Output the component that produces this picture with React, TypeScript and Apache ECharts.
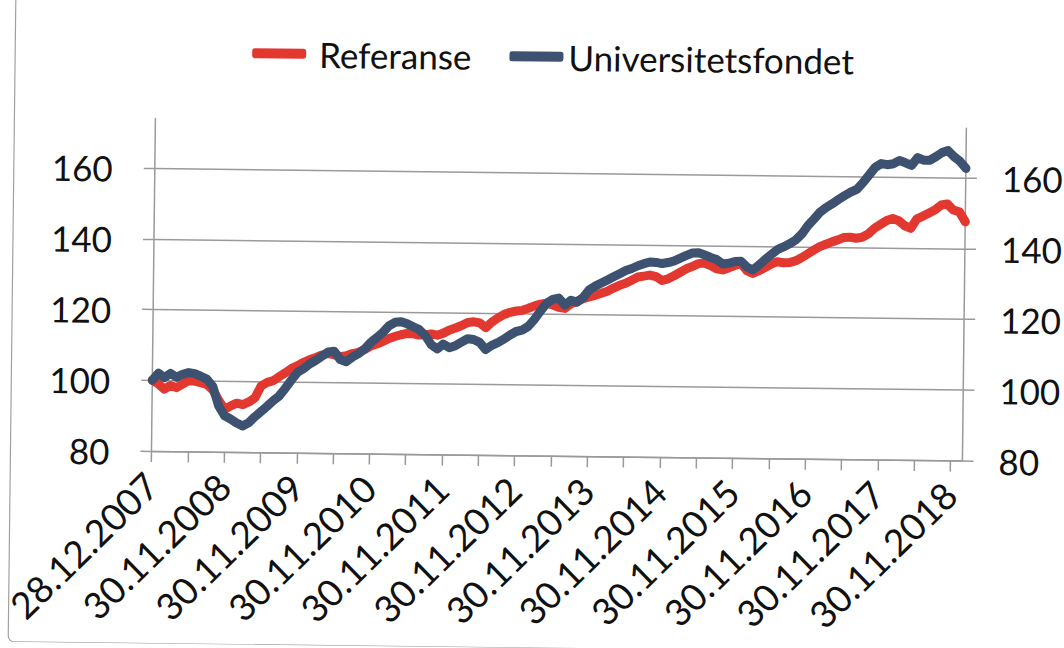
import React, { useEffect, useRef } from "react";
import * as echarts from "echarts";

// Monthly categories: 28.12.2007, then month-ends so that every 12th is 30.11.yyyy
const categories: string[] = [];
for (let k = 0; k < 135; k++) {
  if (k === 0) {
    categories.push("28.12.2007");
  } else {
    const m = 10 + k;
    const year = 2007 + Math.floor(m / 12);
    const month = m % 12;
    const day = new Date(year, month + 1, 0).getDate();
    categories.push(
      String(day).padStart(2, "0") + "." + String(month + 1).padStart(2, "0") + "." + year
    );
  }
}

const referanse = [
  100, 99.0, 97.5, 98.6, 98.0, 99.0, 100.0, 99.9, 99.5, 99.0,
  97.5, 94.6, 92.0, 93.0, 93.8, 93.4, 94.2, 95.4, 98.8, 99.8,
  100.3, 101.5, 102.6, 103.8, 104.6, 105.6, 106.4, 107.0, 107.7, 108.2,
  107.8, 107.3, 107.6, 108.2, 108.6, 109.4, 110.4, 111.0, 111.7, 112.6,
  113.2, 113.7, 114.1, 114.0, 113.7, 113.8, 114.0, 113.7, 114.3, 115.2,
  115.8, 116.5, 117.4, 117.6, 117.3, 116.0, 117.6, 118.8, 119.8, 120.4,
  120.8, 121.0, 121.6, 122.3, 122.8, 123.1, 122.6, 122.0, 121.7, 123.0,
  123.7, 124.5, 125.0, 125.5, 126.1, 126.7, 127.6, 128.4, 129.0, 129.9,
  130.8, 131.1, 131.4, 131.0, 129.9, 130.4, 131.3, 132.3, 133.3, 134.0,
  134.8, 135.0, 134.3, 133.4, 133.1, 133.7, 134.4, 135.0, 133.0, 132.2,
  133.0, 133.9, 134.9, 135.6, 135.3, 135.4, 135.9, 136.8, 137.9, 139.0,
  140.0, 140.7, 141.4, 142.0, 142.7, 142.8, 142.5, 142.8, 143.8, 145.4,
  146.5, 147.6, 148.2, 147.6, 146.2, 145.5, 148.2, 149.0, 149.9, 150.8,
  152.2, 152.5, 150.8, 150.3, 147.5,
];

const universitetsfondet = [
  100, 102.0, 100.8, 102.0, 100.9, 101.8, 102.3, 102.0, 101.3, 100.5,
  98.5, 93.0, 90.2, 89.3, 88.2, 87.4, 88.3, 90.0, 91.5, 93.0,
  94.6, 96.0, 98.2, 100.6, 102.8, 103.8, 105.2, 106.2, 107.4, 108.6,
  108.8, 106.5, 105.9, 107.2, 108.2, 109.5, 111.4, 112.8, 114.3, 116.2,
  117.2, 117.4, 116.8, 116.0, 115.2, 113.6, 111.0, 109.8, 111.2, 110.2,
  110.8, 111.8, 112.8, 112.6, 111.8, 109.8, 111.0, 111.8, 112.8, 114.0,
  115.0, 115.4, 116.5, 118.5, 120.9, 123.1, 124.2, 124.6, 122.6, 124.0,
  123.5, 124.8, 127.0, 128.1, 129.0, 129.9, 130.8, 131.7, 132.6, 133.2,
  134.0, 134.6, 135.1, 135.0, 134.7, 135.0, 135.5, 136.3, 137.1, 137.8,
  137.9, 137.3, 136.6, 136.0, 134.8, 135.0, 135.5, 135.6, 134.0, 133.2,
  134.6, 136.2, 137.6, 139.0, 139.8, 140.7, 141.8, 143.5, 145.9, 147.8,
  149.8, 151.1, 152.2, 153.4, 154.5, 155.5, 156.3, 158.2, 160.4, 162.6,
  163.7, 163.4, 163.7, 164.6, 164.0, 163.3, 165.5, 164.8, 164.8, 165.8,
  167.0, 167.6, 165.9, 164.6, 162.6,
];

const yTicks = [80, 100, 120, 140, 160];

const FONT = "Lato, 'Noto Sans', sans-serif";
const RED = "#E2382F";
const BLUE = "#3D5270";
const GRID = "#9a9a9a";

export default function App() {
  const ref = useRef<HTMLDivElement>(null);
  useEffect(() => {
    document.body.style.margin = "0";
    document.body.style.background = "#fff";
    if (!ref.current) return;
    const chart = echarts.init(ref.current, null, { renderer: "svg" });
    const yAxisBase = {
      type: "value" as const,
      min: 80,
      max: 174,
      interval: 20,
      axisLine: { show: true, lineStyle: { color: GRID, width: 1.5 } },
      axisTick: { show: true, length: 11, customValues: yTicks, lineStyle: { color: GRID, width: 1.5 } },
      axisLabel: {
        customValues: yTicks,
        fontFamily: FONT,
        fontSize: 35,
        color: "#111",
      },
    };
    chart.setOption({
      animation: false,
      backgroundColor: "#fff",
      textStyle: { fontFamily: FONT },
      graphic: [
        {
          type: "rect",
          shape: { x: 12, y: -20, width: 1100, height: 668, r: 6 },
          style: { fill: "none", stroke: "#a0a0a0", lineWidth: 1.2 },
          silent: true,
        },
      ],
      legend: {
        left: 244,
        top: 34,
        itemWidth: 54,
        itemHeight: 10,
        itemGap: 38,
        icon: "roundRect",
        textStyle: { fontFamily: FONT, fontSize: 35, color: "#111" },
        data: [
          { name: "Referanse", textStyle: { padding: [0, 0, 0, 8] } },
          { name: "Universitetsfondet" },
        ],
      },
      grid: { left: 153, right: 98, top: 123, bottom: 192.5, containLabel: false },
      xAxis: {
        type: "category",
        data: categories,
        boundaryGap: false,
        axisLine: { show: true, lineStyle: { color: GRID, width: 1.5 } },
        axisTick: {
          show: true,
          length: 11,
          interval: (i: number) => i % 6 === 0,
          lineStyle: { color: GRID, width: 1.5 },
        },
        axisLabel: {
          interval: (i: number) => i % 12 === 0,
          rotate: 45,
          margin: 28,
          fontFamily: FONT,
          fontSize: 37,
          color: "#111",
        },
        splitLine: { show: false },
      },
      yAxis: [
        {
          ...yAxisBase,
          position: "left",
          axisLabel: { ...yAxisBase.axisLabel, margin: 42 },
          splitLine: { show: true, lineStyle: { color: GRID, width: 1.5 } },
        },
        {
          ...yAxisBase,
          position: "right",
          axisLabel: { ...yAxisBase.axisLabel, margin: 36 },
          splitLine: { show: false },
        },
      ],
      series: [
        {
          name: "Referanse",
          type: "line",
          data: referanse,
          yAxisIndex: 0,
          symbol: "none",
          lineStyle: { color: RED, width: 9, join: "round", cap: "round" },
          itemStyle: { color: RED },
        },
        {
          name: "Universitetsfondet",
          type: "line",
          data: universitetsfondet,
          yAxisIndex: 0,
          symbol: "none",
          lineStyle: { color: BLUE, width: 9, join: "round", cap: "round" },
          itemStyle: { color: BLUE },
        },
      ],
    });
    return () => chart.dispose();
  }, []);
  return (
    <div
      ref={ref}
      style={{
        width: 1064,
        height: 648,
        transform: "rotate(0.68deg)",
        transformOrigin: "532px 324px",
      }}
    />
  );
}
